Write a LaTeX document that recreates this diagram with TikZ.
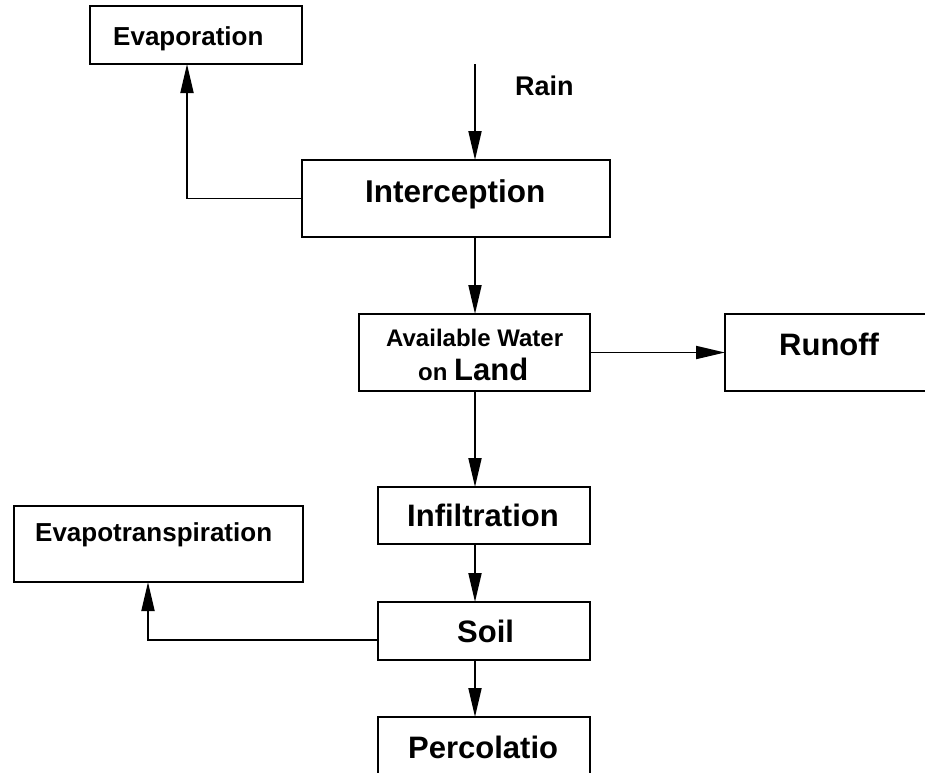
\documentclass[tikz,border=0pt]{standalone}
\usepackage{fontspec}
\setmainfont{Liberation Sans}
\usetikzlibrary{arrows.meta}
\newcommand{\myfs}[1]{\fontsize{#1}{#1}\selectfont}
\begin{document}
\begin{tikzpicture}[x=1pt,y=-1pt,
  box/.style={draw=black,line width=2pt,inner sep=0pt,outer sep=0pt},
  flow/.style={line width=1.9pt,-{Triangle[length=29pt,width=13pt]}},
  lbl/.style={anchor=base west,inner sep=0pt,font=\bfseries\myfs{#1}},
]
\useasboundingbox (0,0) rectangle (925,772);
\clip (0,0) rectangle (925,772);
\fill[white] (0,0) rectangle (925,772);
% boxes
\node[box,minimum width=212pt,minimum height=58pt] (evap) at (196,35) {};
\node[box,minimum width=308pt,minimum height=77pt] (inter) at (456,198.5) {};
\node[box,minimum width=231pt,minimum height=77pt] (avail) at (474.5,352.5) {};
\node[box,minimum width=235pt,minimum height=77pt] (runoff) at (842.5,352.5) {};
\node[box,minimum width=212pt,minimum height=57pt] (infil) at (484,515.5) {};
\node[box,minimum width=212pt,minimum height=58pt] (soil) at (484,631) {};
\node[box,minimum width=212pt,minimum height=83pt] (perc) at (484,758.5) {};
\node[box,minimum width=289pt,minimum height=76pt] (evapot) at (158.5,544) {};
% texts
\node[lbl=26] (tevap) at (113,45) {Evaporation};
\node[lbl=27] (train) at (515,95) {Rain};
\node[lbl=31.5] (tinter) at (365,202) {Interception};
\node[lbl=24] (tavail1) at (386,346.7) {Available Water};
\node[lbl=24] (tavail2) at (418,380.7) {on \myfs{31}Land};
\node[lbl=31] (trunoff) at (779,355) {Runoff};
\node[lbl=31] (tinfil) at (407,526.7) {Infiltration};
\node[lbl=31] (tsoil) at (457,642) {Soil};
\node[lbl=31] (tperc) at (408,758) {Percolatio};
\node[lbl=26] (tevapot) at (35,541.5) {Evapotranspiration};
% connectors
\coordinate (col) at (475,0);
\coordinate (raintop) at (475,64);
\coordinate (ecol) at (187,0);
\coordinate (scol) at (148,0);
\coordinate (srow) at (0,640);
\draw[flow] (raintop) -- (inter.north -| col);
\draw[flow] (inter.south -| col) -- (avail.north -| col);
\draw[flow] (avail.east) -- (runoff.west);
\draw[flow] (avail.south -| col) -- (infil.north -| col);
\draw[flow] (infil.south -| col) -- (soil.north -| col);
\draw[flow] (soil.south -| col) -- (perc.north -| col);
\draw[flow] (inter.west) -| (evap.south -| ecol);
\draw[flow] (soil.west |- srow) -| (evapot.south -| scol);
\end{tikzpicture}
\end{document}
